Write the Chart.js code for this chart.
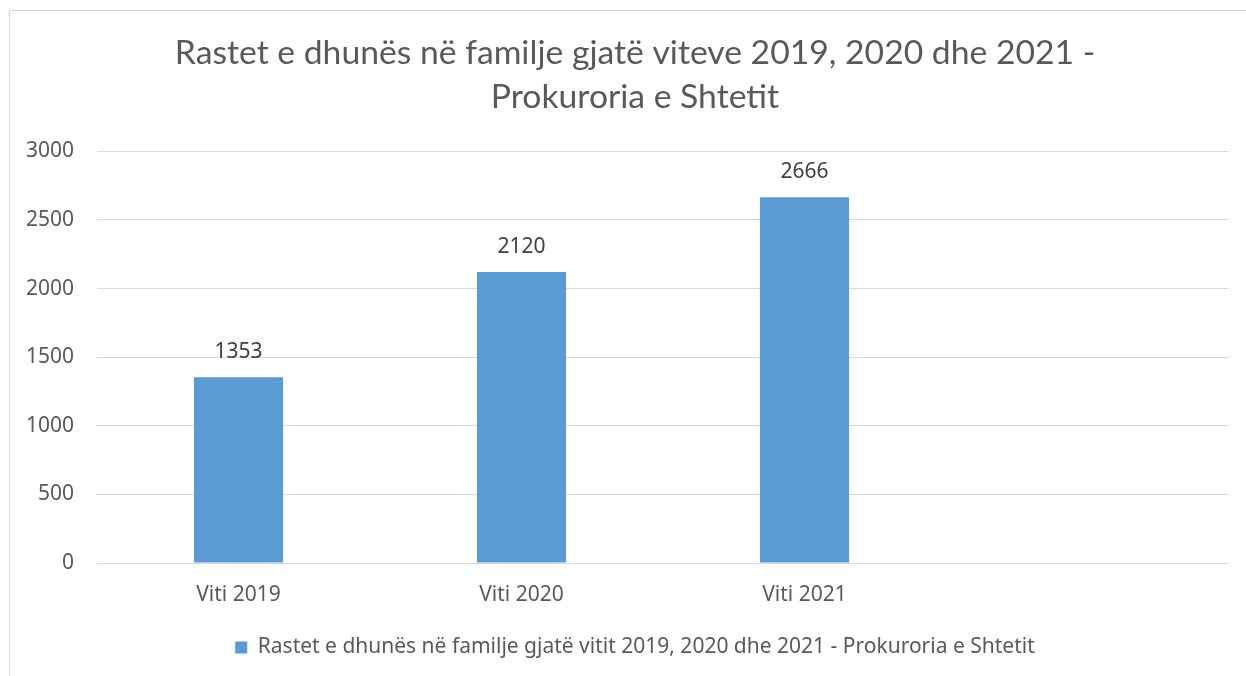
<!DOCTYPE html>
<html><head><meta charset="utf-8">
<script src="https://cdn.jsdelivr.net/npm/chart.js"></script>
<style>html,body{margin:0;padding:0;background:#fff;overflow:hidden}#wrap{width:1246px;height:676px;position:relative}</style>
</head><body><div id="wrap"><canvas id="c" width="1246" height="676"></canvas></div>
<script>
const categories = ['Viti 2019', 'Viti 2020', 'Viti 2021', ''];
const values = [1353, 2120, 2666, null];
const seriesName = 'Rastet e dhunës në familje gjatë vitit 2019, 2020 dhe 2021 - Prokuroria e Shtetit';
const titleLines = ['Rastet e dhunës në familje gjatë viteve 2019, 2020 dhe 2021 -', 'Prokuroria e Shtetit'];
const yMin = 0, yMax = 3000, yStep = 500;

const frame = {
  id: 'frame',
  beforeDraw(chart) {
    const ctx = chart.ctx;
    ctx.save();
    ctx.fillStyle = '#fff';
    ctx.fillRect(0, 0, chart.width, chart.height);
    ctx.strokeStyle = '#D9D9D9';
    ctx.lineWidth = 1;
    ctx.strokeRect(9.5, 10.5, chart.width + 20, chart.height + 20);
    ctx.restore();
  }
};
// centre title and legend on the chart frame rather than the canvas
const recentre = {
  id: 'recentre',
  afterLayout(chart) {
    [chart.titleBlock, chart.legend].forEach(b => {
      if (!b) return;
      b.left += 41;
      b.width = b.right - b.left;
    });
  }
};
const dataLabels = {
  id: 'dataLabels',
  afterDatasetsDraw(chart) {
    const ctx = chart.ctx;
    ctx.save();
    ctx.font = '21px "Noto Sans"';
    ctx.fillStyle = '#404040';
    ctx.textAlign = 'center';
    ctx.textBaseline = 'middle';
    chart.getDatasetMeta(0).data.forEach((el, i) => {
      const v = chart.data.datasets[0].data[i];
      if (v == null) return;
      ctx.fillText(String(v), el.x, el.y - 25);
    });
    ctx.restore();
  }
};

new Chart(document.getElementById('c'), {
  type: 'bar',
  data: {
    labels: categories,
    datasets: [{
      label: seriesName,
      data: values,
      backgroundColor: '#5B9BD5',
      borderWidth: 0,
      categoryPercentage: 1,
      barPercentage: 0.315
    }]
  },
  options: {
    responsive: false,
    animation: false,
    devicePixelRatio: 1,
    layout: { padding: { left: 0, right: 17, top: 0, bottom: 8 } },
    plugins: {
      tooltip: { enabled: false },
      title: {
        display: true,
        text: titleLines,
        color: '#595959',
        font: { family: 'Lato', size: 33.7, weight: 'normal', lineHeight: 1.31 },
        padding: { top: 31, bottom: 32 }
      },
      legend: {
        position: 'bottom',
        labels: {
          color: '#595959',
          font: { family: '"Noto Sans"', size: 21 },
          boxWidth: 12, boxHeight: 12, padding: 10
        }
      }
    },
    scales: {
      x: {
        grid: { display: false },
        border: { display: false },
        ticks: { color: '#595959', font: { family: '"Noto Sans"', size: 21 }, padding: 11 },
        afterFit(s) { s.height = 64; }
      },
      y: {
        min: yMin, max: yMax,
        grid: { color: '#D9D9D9', drawTicks: false },
        border: { display: false },
        ticks: { stepSize: yStep, color: '#595959', font: { family: '"Noto Sans"', size: 21 }, padding: 23,
          callback: (v) => String(v) },
        afterFit(s) { s.width = 97; }
      }
    }
  },
  plugins: [frame, recentre, dataLabels]
});
</script></body></html>
